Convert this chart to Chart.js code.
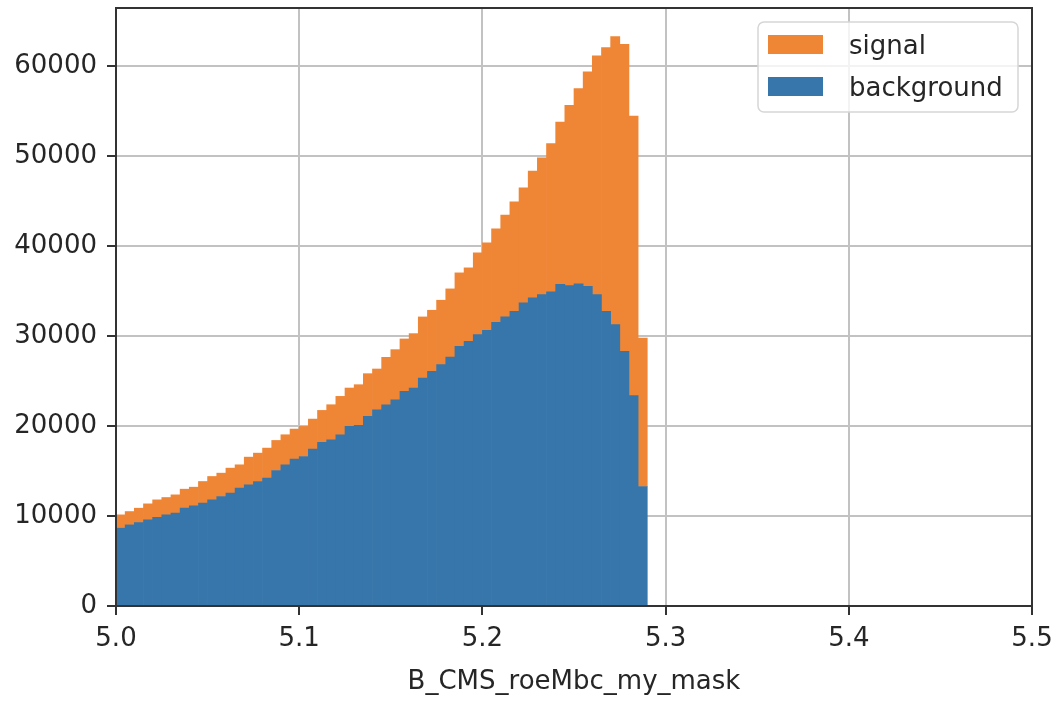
<!DOCTYPE html>
<html>
<head>
<meta charset="utf-8">
<script src="https://cdn.jsdelivr.net/npm/chart.js@4"></script>
<style>
html, body { margin: 0; padding: 0; background: #fff; }
#wrap { width: 1060px; height: 702px; }
</style>
</head>
<body>
<div id="wrap"><canvas id="hist" width="1060" height="702"></canvas></div>
<script>
// histogram bins: 58 bins of width 0.005 starting at 5.0
const binStart = 5.0;
const binWidth = 0.005;

const background = [
    8650, 9020, 9280, 9577, 9874, 10134, 10320, 10876, 11136, 11433,
    11804, 12175, 12546, 13103, 13474, 13846, 14217, 15070, 15702, 16333,
    16630, 17446, 18189, 18486, 19043, 19970, 20080, 21083, 21827, 22383,
    22940, 23867, 24239, 25353, 26095, 26838, 27691, 28879, 29432, 30179,
    30661, 31550, 32146, 32777, 33705, 34262, 34633, 34930, 35783, 35635,
    35820, 35560, 34633, 32777, 31292, 28324, 23386, 13285
];
const signal = [
    1484, 1485, 1596, 1782, 1930, 1930, 2041, 2116, 2078, 2413,
    2599, 2599, 2785, 2599, 3082, 3155, 3341, 3341, 3341, 3341,
    3340, 3340, 3562, 3897, 4268, 4269, 4530, 4753, 4528, 5271,
    5568, 5829, 6051, 6793, 6793, 7164, 7574, 8167, 8171, 9094,
    9729, 10395, 11320, 12174, 12805, 14104, 15218, 16480, 18041, 20045,
    21716, 23831, 26540, 29327, 32036, 34149, 31104, 16515
];

const xTicks = [5.0, 5.1, 5.2, 5.3, 5.4, 5.5];
const yTicks = [0, 10000, 20000, 30000, 40000, 50000, 60000];

const fontFamily = "'DejaVu Sans', sans-serif";
const textColor = '#262626';

function toPoints(values) {
    return values.map((v, i) => ({ x: binStart + binWidth * (i + 0.5), y: v }));
}

// box round the plot and the legend inside the axes, matplotlib style
const frameAndLegend = {
    id: 'frameAndLegend',
    afterDraw(chart) {
        const ctx = chart.ctx;
        const a = chart.chartArea;
        ctx.save();
        ctx.strokeStyle = '#333';
        ctx.lineWidth = 2;
        ctx.strokeRect(a.left, a.top, a.right - a.left, a.bottom - a.top);

        const boxW = 260, boxH = 90;
        const bx = a.right - 14 - boxW, by = a.top + 14;
        ctx.beginPath();
        ctx.roundRect(bx, by, boxW, boxH, 6);
        ctx.fillStyle = 'rgba(255,255,255,0.8)';
        ctx.fill();
        ctx.strokeStyle = '#d6d6d6';
        ctx.lineWidth = 1.5;
        ctx.stroke();

        const items = chart.data.datasets.slice().reverse();
        ctx.font = '26px ' + fontFamily;
        ctx.textBaseline = 'middle';
        items.forEach((ds, i) => {
            const cy = by + 23 + i * 42;
            ctx.fillStyle = ds.backgroundColor;
            ctx.fillRect(bx + 10, cy - 10, 55, 19);
            ctx.fillStyle = textColor;
            ctx.fillText(ds.label, bx + 91, cy + 2);
        });
        ctx.restore();
    }
};

new Chart(document.getElementById('hist'), {
    type: 'bar',
    data: {
        datasets: [
            {
                label: 'background',
                data: toPoints(background),
                backgroundColor: '#3776ab',
                borderWidth: 0
            },
            {
                label: 'signal',
                data: toPoints(signal),
                backgroundColor: '#ef8636',
                borderWidth: 0
            }
        ]
    },
    options: {
        responsive: false,
        animation: false,
        layout: { padding: { top: 8, right: 28, left: 0, bottom: 0 } },
        datasets: {
            bar: { barPercentage: 1, categoryPercentage: 1 }
        },
        scales: {
            x: {
                type: 'linear',
                stacked: true,
                offset: false,
                min: 5.0,
                max: 5.5,
                z: 1,
                afterBuildTicks: s => { s.ticks = xTicks.map(v => ({ value: v })); },
                afterFit: s => { s.height = 96; s.paddingLeft = 0; s.paddingRight = 0; },
                grid: {
                    offset: false,
                    color: '#c2c2c2',
                    lineWidth: 2,
                    tickLength: 9,
                    tickColor: '#333',
                    tickWidth: 2
                },
                border: { color: '#333', width: 2 },
                ticks: {
                    padding: 9,
                    maxRotation: 0,
                    autoSkip: false,
                    color: textColor,
                    font: { family: fontFamily, size: 26 },
                    callback: v => v.toFixed(1)
                },
                title: {
                    display: true,
                    text: 'B_CMS_roeMbc_my_mask',
                    color: textColor,
                    font: { family: fontFamily, size: 26 },
                    padding: { top: 0, bottom: 4 }
                }
            },
            y: {
                stacked: true,
                min: 0,
                max: 66500,
                z: 1,
                afterBuildTicks: s => { s.ticks = yTicks.map(v => ({ value: v })); },
                afterFit: s => { s.width = 116; s.paddingTop = 0; s.paddingBottom = 0; },
                grid: {
                    color: '#c2c2c2',
                    lineWidth: 2,
                    tickLength: 9,
                    tickColor: '#333',
                    tickWidth: 2
                },
                border: { color: '#333', width: 2 },
                ticks: {
                    padding: 10,
                    autoSkip: false,
                    color: textColor,
                    font: { family: fontFamily, size: 26 },
                    callback: v => String(v)
                }
            }
        },
        plugins: {
            legend: { display: false },
            tooltip: { enabled: false }
        }
    },
    plugins: [frameAndLegend]
});
</script>
</body>
</html>
